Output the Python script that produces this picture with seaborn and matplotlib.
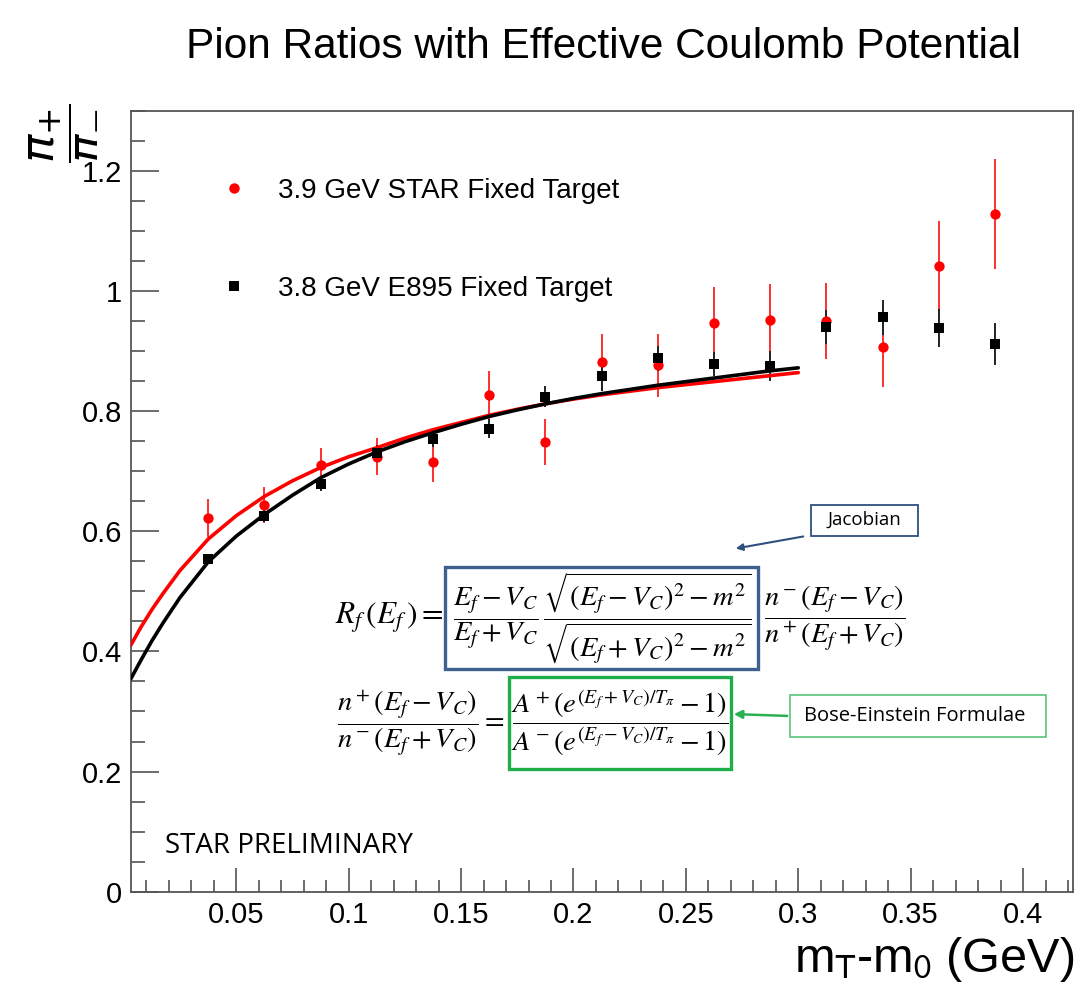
import matplotlib
matplotlib.use("Agg")
import matplotlib.pyplot as plt
import seaborn as sns
import pandas as pd
from matplotlib.lines import Line2D
from matplotlib.patches import Rectangle, FancyArrowPatch
from matplotlib.ticker import MultipleLocator, FormatStrFormatter

# ---------------- data ----------------
bin_x = [0.0375, 0.0625, 0.0875, 0.1125, 0.1375, 0.1625, 0.1875, 0.2125,
         0.2375, 0.2625, 0.2875, 0.3125, 0.3375, 0.3625, 0.3875]
star_ratio = [0.622, 0.643, 0.711, 0.724, 0.715, 0.826, 0.748, 0.881,
              0.876, 0.947, 0.952, 0.950, 0.907, 1.042, 1.128]
star_err = [0.032, 0.030, 0.028, 0.031, 0.033, 0.040, 0.038, 0.047,
            0.052, 0.059, 0.060, 0.063, 0.067, 0.075, 0.091]
e895_ratio = [0.554, 0.625, 0.679, 0.731, 0.754, 0.771, 0.824, 0.859,
              0.888, 0.878, 0.875, 0.940, 0.956, 0.938, 0.912]
e895_err = [0.008, 0.010, 0.012, 0.012, 0.014, 0.015, 0.017, 0.025,
            0.021, 0.020, 0.025, 0.028, 0.029, 0.032, 0.035]

fit_x = [0.003, 0.0075, 0.0125, 0.0175, 0.025, 0.0375, 0.05, 0.0625, 0.075,
         0.0875, 0.1, 0.1125, 0.125, 0.1375, 0.15, 0.1625, 0.175, 0.1875,
         0.2, 0.2125, 0.225, 0.2375, 0.25, 0.2625, 0.275, 0.2875, 0.3]
fit_e895 = [0.354, 0.385, 0.418, 0.448, 0.490, 0.549, 0.592, 0.628, 0.660,
            0.689, 0.712, 0.732, 0.749, 0.764, 0.778, 0.791, 0.802, 0.812,
            0.821, 0.829, 0.836, 0.843, 0.849, 0.855, 0.861, 0.867, 0.872]
fit_star = [0.410, 0.440, 0.470, 0.497, 0.535, 0.587, 0.626, 0.658, 0.684,
            0.706, 0.724, 0.739, 0.755, 0.769, 0.781, 0.793, 0.803, 0.812,
            0.820, 0.827, 0.833, 0.839, 0.844, 0.849, 0.854, 0.859, 0.864]

legend_labels = ["3.9 GeV STAR Fixed Target", "3.8 GeV E895 Fixed Target"]
title_text = "Pion Ratios with Effective Coulomb Potential"
x_label = r"m$_{\mathrm{T}}$-m$_{\mathrm{0}}$ (GeV)"
y_label = r"$\dfrac{\pi_{+}}{\pi_{-}}$"

# ---------------- style ----------------
sns.set_theme(style="white")
plt.rcParams["font.family"] = ["Liberation Sans", "DejaVu Sans"]
plt.rcParams["mathtext.fontset"] = "stix"
for k in ["text.color", "axes.labelcolor", "xtick.labelcolor", "ytick.labelcolor"]:
    plt.rcParams[k] = "black"

W, H = 1091, 991
fig = plt.figure(figsize=(W / 100, H / 100), dpi=100)
fig.patch.set_facecolor("white")

def fx(px):
    return px / W

def fy(py):
    return 1 - py / H

ax_l, ax_r, ax_t, ax_b = 130.7, 1072.7, 110.7, 891.7
ax = fig.add_axes([fx(ax_l), fy(ax_b), (ax_r - ax_l) / W, (ax_b - ax_t) / H])
ax.set_facecolor("white")

df_star = pd.DataFrame({"x": bin_x, "y": star_ratio, "err": star_err})
df_e895 = pd.DataFrame({"x": bin_x, "y": e895_ratio, "err": e895_err})
df_fit = pd.DataFrame({"x": fit_x + fit_x,
                       "y": fit_star + fit_e895,
                       "set": ["star"] * len(fit_x) + ["e895"] * len(fit_x)})

# error bars
ax.errorbar(df_star["x"], df_star["y"], yerr=df_star["err"], fmt="none",
            ecolor="#ff3030", elinewidth=1.4, capsize=0, zorder=2)
ax.errorbar(df_e895["x"], df_e895["y"], yerr=df_e895["err"], fmt="none",
            ecolor="#222222", elinewidth=1.4, capsize=0, zorder=3)

# fit curves
sns.lineplot(data=df_fit, x="x", y="y", hue="set",
             palette={"star": "#ff0000", "e895": "#000000"},
             hue_order=["star", "e895"], linewidth=2.6, legend=False,
             sort=False, ax=ax, zorder=4)

# points
sns.scatterplot(data=df_star, x="x", y="y", color="#ff0000", marker="o",
                s=55, linewidth=0, ax=ax, zorder=5)
sns.scatterplot(data=df_e895, x="x", y="y", color="#000000", marker="s",
                s=50, linewidth=0, ax=ax, zorder=6)

ax.set_xlim(0.003, 0.4221)
ax.set_ylim(0, 1.3)
ax.set_xlabel("")
ax.set_ylabel("")

ax.xaxis.set_major_locator(MultipleLocator(0.05))
ax.xaxis.set_minor_locator(MultipleLocator(0.01))
ax.yaxis.set_major_locator(MultipleLocator(0.2))
ax.yaxis.set_minor_locator(MultipleLocator(0.05))
ax.xaxis.set_major_formatter(FormatStrFormatter("%g"))
ax.yaxis.set_major_formatter(FormatStrFormatter("%g"))

for s in ax.spines.values():
    s.set_color("#555555")
    s.set_linewidth(1.3)
ax.tick_params(axis="both", which="both", direction="in", color="#444444",
               width=1.1, labelsize=21, labelcolor="black",
               bottom=True, left=True, top=False, right=False)
ax.tick_params(axis="x", which="major", length=17, pad=7)
ax.tick_params(axis="x", which="minor", length=8.5)
ax.tick_params(axis="y", which="major", length=20, pad=6)
ax.tick_params(axis="y", which="minor", length=10)

# legend
handles = [Line2D([], [], linestyle="none", marker="o", color="#ff0000",
                  markersize=7.5, markeredgewidth=0),
           Line2D([], [], linestyle="none", marker="s", color="#000000",
                  markersize=7, markeredgewidth=0)]
ax.legend(handles, legend_labels, loc="upper left",
          bbox_to_anchor=(fx(220), fy(178)), bbox_transform=fig.transFigure,
          frameon=False, fontsize=20, handlelength=1.0, handletextpad=1.1,
          labelspacing=2.6, borderpad=0, borderaxespad=0)

# title and axis labels
fig.text(fx(604), fy(47), title_text, ha="center", va="center", fontsize=30.5)
fig.text(fx(1074), fy(960), x_label, ha="right", va="center", fontsize=35,
         math_fontfamily="stixsans")
fig.text(fx(62), fy(133), y_label, ha="center", va="center", fontsize=34,
         rotation=90, math_fontfamily="dejavusans")

narrow = ["Liberation Sans Narrow", "Open Sans", "DejaVu Sans"]
fig.text(fx(165), fy(846), "STAR PRELIMINARY", ha="left", va="center",
         fontsize=20, family=narrow)

# formula block
fs = 20.5
fig.text(fx(443), fy(618), r"$R_f\,(E_f\,)=$", ha="right", va="center",
         fontsize=fs + 2)
fig.text(fx(602), fy(618),
         r"$\dfrac{E_f-V_C}{E_f+V_C}\,\dfrac{\sqrt{(E_f-V_C)^2-m^2}}{\sqrt{(E_f+V_C)^2-m^2}}$",
         ha="center", va="center", fontsize=fs)
fig.text(fx(835), fy(618), r"$\dfrac{n^-(E_f-V_C)}{n^+(E_f+V_C)}$",
         ha="center", va="center", fontsize=fs)
fig.text(fx(421), fy(723), r"$\dfrac{n^+(E_f-V_C)}{n^-(E_f+V_C)}=$",
         ha="center", va="center", fontsize=fs)
fig.text(fx(620), fy(723),
         r"$\dfrac{A^+(e^{(E_f+V_C)/T_\pi}-1)}{A^-(e^{(E_f-V_C)/T_\pi}-1)}$",
         ha="center", va="center", fontsize=fs)

def box(x0, y0, x1, y1, color, lw, fill=False):
    r = Rectangle((fx(x0), fy(y1)), (x1 - x0) / W, (y1 - y0) / H,
                  transform=fig.transFigure, fill=fill, facecolor="white",
                  edgecolor=color, linewidth=lw, zorder=10)
    fig.patches.append(r)

box(445, 567, 758, 669, "#3f5f8f", 2.4)
box(509, 677, 731, 769, "#1fae4a", 2.4)
box(811, 505, 918, 536, "#2f4f7f", 1.3)
box(790, 695, 1046, 737, "#4cc070", 1.1)

fig.text(fx(864), fy(520), "Jacobian", ha="center", va="center",
         fontsize=13.5, family=narrow)
fig.text(fx(915), fy(716), "Bose-Einstein Formulae", ha="center",
         va="center", fontsize=14.5, family=narrow)

a1 = FancyArrowPatch((fx(806), fy(536)), (fx(733), fy(549)),
                     transform=fig.transFigure, arrowstyle="-|>",
                     mutation_scale=10, color="#2f4f7f", linewidth=1.5)
a2 = FancyArrowPatch((fx(790), fy(716)), (fx(731), fy(714)),
                     transform=fig.transFigure, arrowstyle="-|>",
                     mutation_scale=12, color="#2ab050", linewidth=1.8)
fig.patches.extend([a1, a2])

fig.savefig("out.png", dpi=100, facecolor="white")
